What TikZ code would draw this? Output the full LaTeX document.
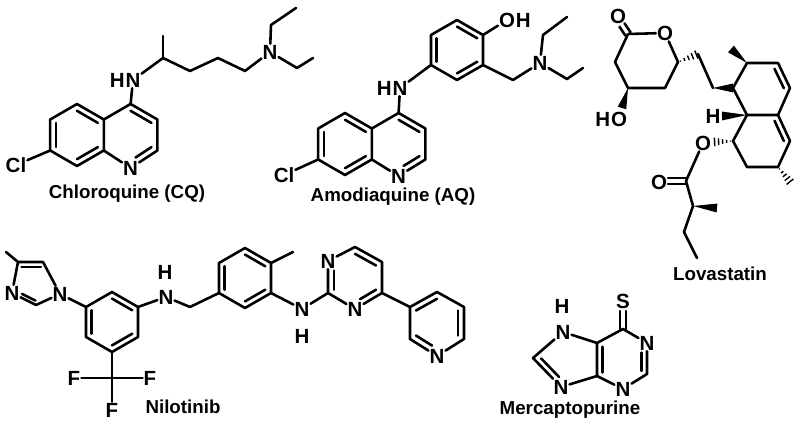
\documentclass[tikz,border=0pt]{standalone}
\usepackage{fontspec}
\setmainfont{Liberation Sans}
\usetikzlibrary{calc}
\tikzset{
  atom/.style={font=\bfseries\fontsize{17.5}{17.5}\selectfont, inner sep=0.8pt},
  title/.style={font=\bfseries\fontsize{16}{18}\selectfont, inner sep=0pt},
  bond/.style={line width=2.2pt, line join=round, line cap=round},
  hl/.style={atom,anchor=east,xshift=1.2pt},
  hr/.style={atom,anchor=west,xshift=-1.2pt}
}
\newcommand{\dbin}[4][]{\draw[bond,#1] ($(#2)!0.22!(#4)$) -- ($(#3)!0.22!(#4)$);}
\newcommand{\dpar}[2]{\draw[bond] ($(#1)!2.6pt!90:(#2)$) -- ($(#2)!2.6pt!-90:(#1)$);
  \draw[bond] ($(#1)!2.6pt!-90:(#2)$) -- ($(#2)!2.6pt!90:(#1)$);}
\newcommand{\wdg}[2]{\fill ($(#1)$) -- ($(#2)!3.8pt!90:(#1)$) -- ($(#2)!3.8pt!-90:(#1)$) -- cycle;}
\newcommand{\hsh}[2]{\foreach \t [evaluate=\t as \d using \t*4] in {0.12,0.32,0.52,0.72,0.92} {
  \draw[line width=1.2pt] ($(#1)!\t!(#2)!\d pt!90:(#2)$) -- ($(#1)!\t!(#2)!\d pt!-90:(#2)$);}}
\begin{document}
\begin{tikzpicture}[x=0.03cm,y=-0.03cm]
\useasboundingbox (0,0) rectangle (800,430);
% ================= Chloroquine
\coordinate (a1) at (77,104); \coordinate (a2) at (103.8,119.5); \coordinate (a3) at (103.8,150.5);
\coordinate (a4) at (77,166); \coordinate (a5) at (50.2,150.5); \coordinate (a6) at (50.2,119.5);
\coordinate (b1) at (130.6,104); \coordinate (b2) at (157.4,119.5); \coordinate (b3) at (157.4,150.5);
\coordinate (L1) at (77,135); \coordinate (R1) at (130.6,135);
\node[atom] (qN) at (130.6,168) {N};
\node[atom] (cl1) at (16,165) {Cl};
\node[atom] (n1) at (133,80) {N}; \node[hl] at (n1.west) {H};
\node[atom] (n2) at (270,52) {N};
\coordinate (c1) at (163,58); \coordinate (m1) at (163,36); \coordinate (c2) at (190,71);
\coordinate (c3) at (218,58); \coordinate (c4) at (245,71);
\coordinate (e1) at (271,25); \coordinate (e2) at (296,8); \coordinate (e3) at (297,68); \coordinate (e4) at (313,58);
\draw[bond] (a1)--(a2)--(a3)--(a4)--(a5)--(a6)--cycle;
\draw[bond] (a2)--(b1)--(b2)--(b3)--(qN)--(a3);
\dbin{a1}{a2}{L1} \dbin{a6}{a5}{L1} \dbin{a4}{a3}{L1}
\dbin{b1}{b2}{R1} \dbin[shorten >=5pt]{b3}{qN}{R1}
\draw[bond] (a5)--(cl1); \draw[bond] (b1)--(n1);
\draw[bond] (n1)--(c1)--(c2)--(c3)--(c4)--(n2); \draw[bond] (c1)--(m1);
\draw[bond] (n2)--(e1)--(e2); \draw[bond] (n2)--(e3)--(e4);
\node[title] (t1) at (127,194) {Chloroquine (CQ)};
% ================= Amodiaquine
\coordinate (d1) at (345,113); \coordinate (d2) at (371.8,128.5); \coordinate (d3) at (371.8,159.5);
\coordinate (d4) at (345,175); \coordinate (d5) at (318.2,159.5); \coordinate (d6) at (318.2,128.5);
\coordinate (f1) at (398.6,113); \coordinate (f2) at (425.4,128.5); \coordinate (f3) at (425.4,159.5);
\coordinate (L2) at (345,144); \coordinate (R2) at (398.6,144);
\node[atom] (aN) at (398.6,176) {N};
\node[atom] (cl2) at (284,175) {Cl};
\node[atom] (n3) at (400,88) {N}; \node[hl] at (n3.west) {H};
\coordinate (p1) at (457,20); \coordinate (p2) at (483,35); \coordinate (p3) at (483,65);
\coordinate (p4) at (457,80); \coordinate (p5) at (431,65); \coordinate (p6) at (431,35);
\coordinate (P) at (457,50);
\node[atom] (oh) at (507,20) {O}; \node[hr] at (oh.east) {H};
\coordinate (ch) at (513,80);
\node[atom] (n4) at (540,63) {N};
\coordinate (e5) at (543,35); \coordinate (e6) at (567,17); \coordinate (e7) at (567,79); \coordinate (e8) at (583,68);
\draw[bond] (d1)--(d2)--(d3)--(d4)--(d5)--(d6)--cycle;
\draw[bond] (d2)--(f1)--(f2)--(f3)--(aN)--(d3);
\dbin{d1}{d2}{L2} \dbin{d6}{d5}{L2} \dbin{d4}{d3}{L2}
\dbin{f1}{f2}{R2} \dbin[shorten >=5pt]{f3}{aN}{R2}
\draw[bond] (d5)--(cl2); \draw[bond] (f1)--(n3); \draw[bond] (n3)--(p5);
\draw[bond] (p1)--(p2)--(p3)--(p4)--(p5)--(p6)--cycle;
\dbin{p6}{p5}{P} \dbin{p1}{p2}{P} \dbin{p4}{p3}{P}
\draw[bond] (p2)--(oh); \draw[bond] (p3)--(ch)--(n4);
\draw[bond] (n4)--(e5)--(e6); \draw[bond] (n4)--(e7)--(e8);
\node[title] (t2) at (393,197) {Amodiaquine (AQ)};
% ================= Lovastatin
\coordinate (l2) at (628,34); \coordinate (odT) at (622,25);
\node[atom] (od) at (618,16) {O};
\node[atom] (oR) at (665,33) {O};
\coordinate (l6) at (678,62); \coordinate (l5) at (665,88); \coordinate (l4) at (628,88); \coordinate (l3) at (615,62);
\draw[bond] (l2)--(oR)--(l6)--(l5)--(l4)--(l3)--(l2);
\dpar{l2}{odT}
\node[atom] (hoO) at (619,119) {O}; \node[hl] at (hoO.west) {H};
\coordinate (hoT) at (622,108);
\wdg{l4}{hoT}
\coordinate (l7) at (698,54); \coordinate (l8) at (713,88);
\hsh{l6}{l7}
\draw[bond] (l7)--(l8);
\coordinate (r1) at (733,88); \coordinate (r2) at (747,63); \coordinate (r3) at (778,63);
\coordinate (r4) at (790,88); \coordinate (r5) at (778,115); \coordinate (r6) at (747,115);
\coordinate (U) at (762,89);
\wdg{l8}{r1}
\draw[bond] (r1)--(r2)--(r3)--(r4)--(r5)--(r6)--cycle;
\dbin{r3}{r4}{U}
\coordinate (me1) at (731,49); \wdg{r2}{me1}
\coordinate (s3) at (790,141); \coordinate (s4) at (778,167); \coordinate (s5) at (747,167); \coordinate (s6) at (733,141);
\coordinate (D) at (762,141);
\draw[bond] (r5)--(s3)--(s4)--(s5)--(s6)--(r6);
\dbin{r5}{s3}{D}
\node[atom] (hH) at (713,116) {H}; \coordinate (hT) at (722,116); \wdg{r6}{hT}
\node[atom] (eO) at (703,143) {O}; \coordinate (eT) at (713,142); \hsh{s6}{eT}
\coordinate (k1) at (686,181); \coordinate (kOT) at (668,181);
\node[atom] (kO) at (659,182) {O};
\draw[bond] (eO)--(k1); \dpar{k1}{kOT}
\coordinate (k2) at (693,206); \coordinate (km) at (717,208); \coordinate (k3) at (684,232); \coordinate (k4) at (697,258);
\draw[bond] (k1)--(k2)--(k3)--(k4); \wdg{k2}{km}
\coordinate (rm) at (791,183); \hsh{s4}{rm}
\node[title] (t3) at (720,274) {Lovastatin};
% ================= Nilotinib
\coordinate (im4) at (18,262); \coordinate (im5) at (43,262); \coordinate (im2) at (36,305);
\node[atom] (nim1) at (60,294) {N}; \node[atom] (nim3) at (12,293) {N};
\coordinate (I) at (34,285); \coordinate (imm) at (6,252);
\draw[bond] (im4)--(im5)--(nim1)--(im2)--(nim3)--(im4)--(imm);
\dbin{im4}{im5}{I} \dbin[shorten >=5pt]{im2}{nim3}{I}
\coordinate (v1) at (112,292); \coordinate (v2) at (138,307); \coordinate (v3) at (138,337);
\coordinate (v4) at (112,352); \coordinate (v5) at (86,337); \coordinate (v6) at (86,307);
\coordinate (B1) at (112,322);
\draw[bond] (v1)--(v2)--(v3)--(v4)--(v5)--(v6)--cycle;
\dbin{v1}{v2}{B1} \dbin{v3}{v4}{B1} \dbin{v5}{v6}{B1}
\draw[bond] (nim1)--(v6);
\node[atom] (nn1) at (166,297) {N}; \node[atom] (hn1) at (165,272) {H};
\coordinate (ch2) at (190,307);
\coordinate (w1) at (245,248); \coordinate (w2) at (271,263); \coordinate (w3) at (271,293);
\coordinate (w4) at (245,308); \coordinate (w5) at (219,293); \coordinate (w6) at (219,263);
\coordinate (B2) at (245,278);
\draw[bond] (v2)--(nn1)--(ch2)--(w5);
\draw[bond] (w1)--(w2)--(w3)--(w4)--(w5)--(w6)--cycle;
\dbin{w6}{w5}{B2} \dbin{w1}{w2}{B2} \dbin{w3}{w4}{B2}
\coordinate (wm) at (293,252); \draw[bond] (w2)--(wm);
\node[atom] (nn2) at (302,309) {N}; \node[atom] (hn2) at (302,336) {H};
\coordinate (q6) at (355,247); \coordinate (q5) at (382,262); \coordinate (q4) at (382,293);
\coordinate (q2) at (328,293);
\node[atom] (qn3) at (355,309) {N}; \node[atom] (qn1) at (328,261) {N};
\coordinate (Q) at (355,278);
\draw[bond] (w3)--(nn2)--(q2);
\draw[bond] (q2)--(qn1)--(q6)--(q5)--(q4)--(qn3)--(q2);
\dbin[shorten <=5pt]{qn1}{q2}{Q} \dbin{q6}{q5}{Q} \dbin[shorten >=5pt]{q4}{qn3}{Q}
\coordinate (y1) at (410,307); \coordinate (y2) at (437,292); \coordinate (y3) at (464,307);
\coordinate (y4) at (464,339); \coordinate (y6) at (410,339);
\node[atom] (yN) at (437,356) {N};
\coordinate (Y) at (437,323);
\draw[bond] (q4)--(y1);
\draw[bond] (y1)--(y2)--(y3)--(y4)--(yN)--(y6)--(y1);
\dbin{y1}{y2}{Y} \dbin{y3}{y4}{Y} \dbin[shorten >=5pt]{y6}{yN}{Y}
\coordinate (cf) at (112,378);
\node[atom] (f1n) at (74,378) {F}; \node[atom] (f2n) at (150,378) {F}; \node[atom] (f3n) at (112,410) {F};
\draw[bond] (v4)--(cf); \draw[bond] (f1n)--(f2n); \draw[bond] (cf)--(f3n);
\node[title] (t4) at (183,407) {Nilotinib};
% ================= Mercaptopurine
\node[atom] (mN9) at (563,332) {N}; \node[atom] (mH) at (562,306) {H};
\coordinate (mC8) at (533,358);
\node[atom] (mN7) at (561,387) {N};
\coordinate (mC5) at (597,376); \coordinate (mC4) at (597,343); \coordinate (mC6) at (623,329);
\node[atom] (mS) at (623,301) {S}; \coordinate (mST) at (623,311);
\node[atom] (mN1) at (647,343) {N};
\coordinate (mC2) at (647,374);
\node[atom] (mN3) at (623,389) {N};
\coordinate (I5) at (570,360); \coordinate (H6) at (622,360);
\draw[bond] (mN9)--(mC8)--(mN7)--(mC5)--(mC4)--(mN9);
\draw[bond] (mC4)--(mC6)--(mN1)--(mC2)--(mN3)--(mC5);
\dbin[shorten >=5pt]{mC8}{mN7}{I5} \dbin{mC5}{mC4}{H6} \dbin[shorten <=5pt]{mN1}{mC2}{H6}
\dpar{mC6}{mST}
\node[title] (t5) at (570,410) {Mercaptopurine};
\end{tikzpicture}
\end{document}
